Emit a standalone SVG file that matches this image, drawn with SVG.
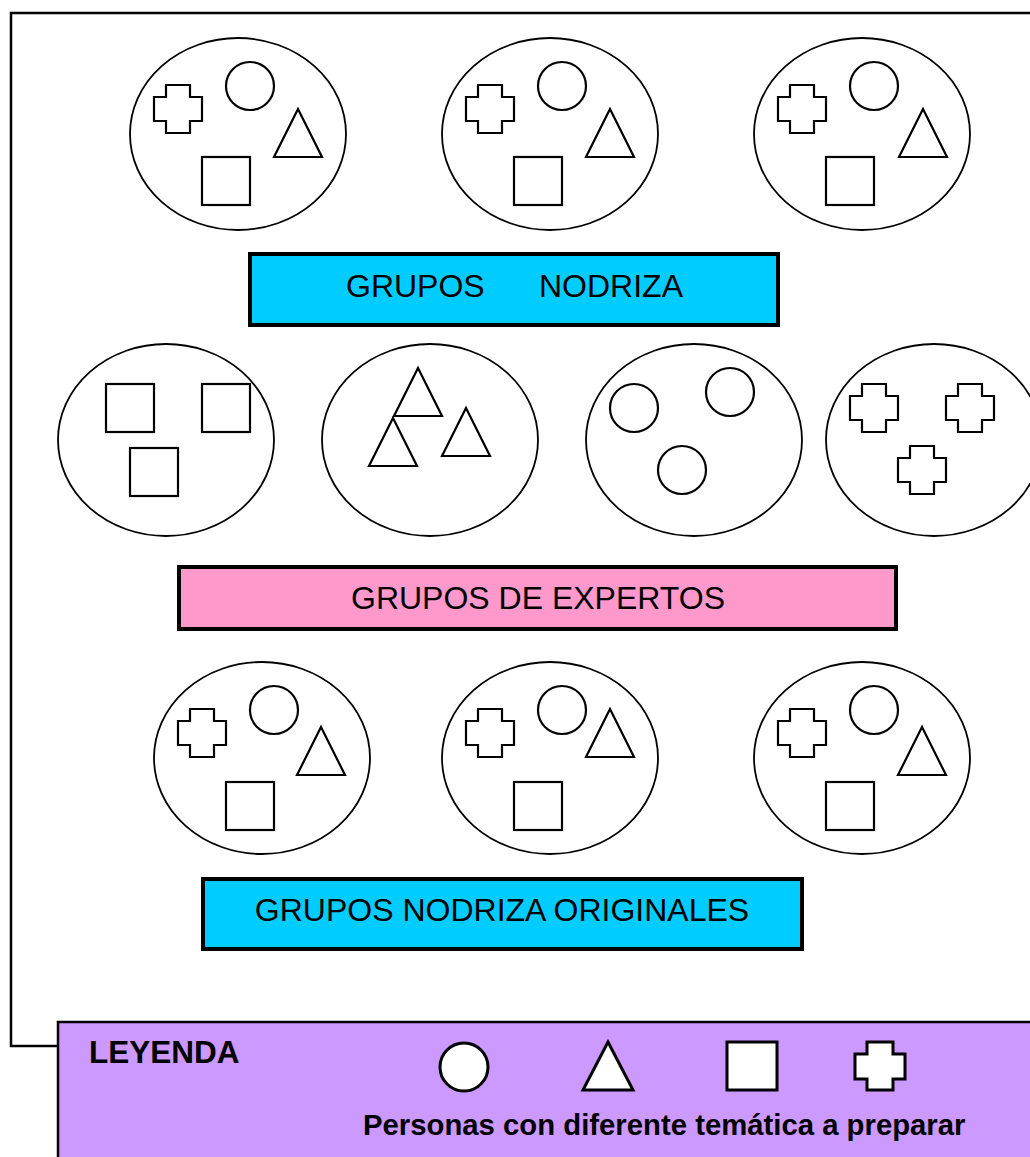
<svg xmlns="http://www.w3.org/2000/svg" xmlns:xlink="http://www.w3.org/1999/xlink" width="1030" height="1157" viewBox="0 0 1030 1157">
<style>
.bg{fill:#FFFFFF}
.ell{fill:#FFFFFF;stroke:#000;stroke-width:1.8}
.sh{fill:none;stroke:#000;stroke-width:2.2}
.lsh{fill:#FFFFFF;stroke:#000;stroke-width:3}
.box{stroke:#000;stroke-width:4}
.cyan{fill:#00CCFF}
.pink{fill:#FF99CC}
.legend{fill:#CC99FF;stroke:#000;stroke-width:2.5}
.frame{fill:none;stroke:#000;stroke-width:2.5}
.lbl{font-family:"Liberation Sans",Arial,sans-serif;font-size:32px;fill:#000}
.blbl{font-family:"Liberation Sans",Arial,sans-serif;font-size:29.3px;font-weight:bold;fill:#000}
</style>
<defs>
<path id="cross" d="M12,0H36V12H48V36H36V48H12V36H0V12H12Z"/>
<path id="tri" d="M0,0L24,48H-24Z"/>
<rect id="sq" width="48" height="48"/>
<circle id="circ" r="24"/>
</defs>
<rect class="bg" x="0" y="0" width="1030" height="1157"/>

<g id="connectors">
<polyline class="frame" points="1032,13 11,13 11,1046 58,1046"/>
</g>

<!-- Row 1: grupos nodriza -->
<g id="nodriza1" class="sh">
<ellipse class="ell" cx="238" cy="134" rx="108" ry="96"/>
<use href="#cross" x="154" y="85"/>
<use href="#circ" x="250" y="86"/>
<use href="#tri" x="298" y="109"/>
<use href="#sq" x="202" y="157"/>
</g>
<g id="nodriza2" class="sh">
<ellipse class="ell" cx="550" cy="134" rx="108" ry="96"/>
<use href="#cross" x="466" y="85"/>
<use href="#circ" x="562" y="86"/>
<use href="#tri" x="610" y="109"/>
<use href="#sq" x="514" y="157"/>
</g>
<g id="nodriza3" class="sh">
<ellipse class="ell" cx="862" cy="134" rx="108" ry="96"/>
<use href="#cross" x="778" y="85"/>
<use href="#circ" x="874" y="86"/>
<use href="#tri" x="923" y="109"/>
<use href="#sq" x="826" y="157"/>
</g>

<g id="label-nodriza">
<rect class="box cyan" x="250" y="254" width="528" height="71"/>
<text class="lbl" x="346" y="297">GRUPOS</text>
<text class="lbl" x="539" y="297">NODRIZA</text>
</g>

<!-- Row 2: grupos de expertos -->
<g id="expertos1" class="sh">
<ellipse class="ell" cx="166" cy="440" rx="108" ry="96"/>
<use href="#sq" x="106" y="384"/>
<use href="#sq" x="202" y="384"/>
<use href="#sq" x="130" y="448"/>
</g>
<g id="expertos2" class="sh">
<ellipse class="ell" cx="430" cy="440" rx="108" ry="96"/>
<use href="#tri" x="418" y="368"/>
<use href="#tri" x="393" y="418"/>
<use href="#tri" x="466" y="408"/>
</g>
<g id="expertos3" class="sh">
<ellipse class="ell" cx="694" cy="440" rx="108" ry="96"/>
<use href="#circ" x="634" y="408"/>
<use href="#circ" x="730" y="392"/>
<use href="#circ" x="682" y="470"/>
</g>
<g id="expertos4" class="sh">
<ellipse class="ell" cx="934" cy="440" rx="108" ry="96"/>
<use href="#cross" x="850" y="384"/>
<use href="#cross" x="946" y="384"/>
<use href="#cross" x="898" y="446"/>
</g>

<g id="label-expertos">
<rect class="box pink" x="179" y="567" width="717" height="62"/>
<text class="lbl" x="538" y="609" text-anchor="middle">GRUPOS DE EXPERTOS</text>
</g>

<!-- Row 3: grupos nodriza originales -->
<g id="original1" class="sh">
<ellipse class="ell" cx="262" cy="758" rx="108" ry="96"/>
<use href="#cross" x="178" y="709"/>
<use href="#circ" x="274" y="710"/>
<use href="#tri" x="321" y="727"/>
<use href="#sq" x="226" y="782"/>
</g>
<g id="original2" class="sh">
<ellipse class="ell" cx="550" cy="758" rx="108" ry="96"/>
<use href="#cross" x="466" y="709"/>
<use href="#circ" x="562" y="710"/>
<use href="#tri" x="610" y="709"/>
<use href="#sq" x="514" y="782"/>
</g>
<g id="original3" class="sh">
<ellipse class="ell" cx="862" cy="758" rx="108" ry="96"/>
<use href="#cross" x="778" y="709"/>
<use href="#circ" x="874" y="710"/>
<use href="#tri" x="922" y="727"/>
<use href="#sq" x="826" y="782"/>
</g>

<g id="label-originales">
<rect class="box cyan" x="203" y="879" width="599" height="70"/>
<text class="lbl" x="502" y="921" text-anchor="middle">GRUPOS NODRIZA ORIGINALES</text>
</g>

<!-- Legend -->
<g id="leyenda">
<rect class="legend" x="58" y="1022" width="1000" height="160"/>
<text class="blbl" x="89" y="1063" style="font-size:31.5px">LEYENDA</text>
<circle class="lsh" cx="464" cy="1067" r="24"/>
<path class="lsh" d="M608,1042L633,1090H583Z"/>
<rect class="lsh" x="727" y="1042" width="50" height="48"/>
<path class="lsh" d="M867,1042H893V1054H905V1079H893V1090H867V1079H855V1054H867Z"/>
<text class="blbl" x="363" y="1135">Personas con diferente temática a preparar</text>
</g>
</svg>
